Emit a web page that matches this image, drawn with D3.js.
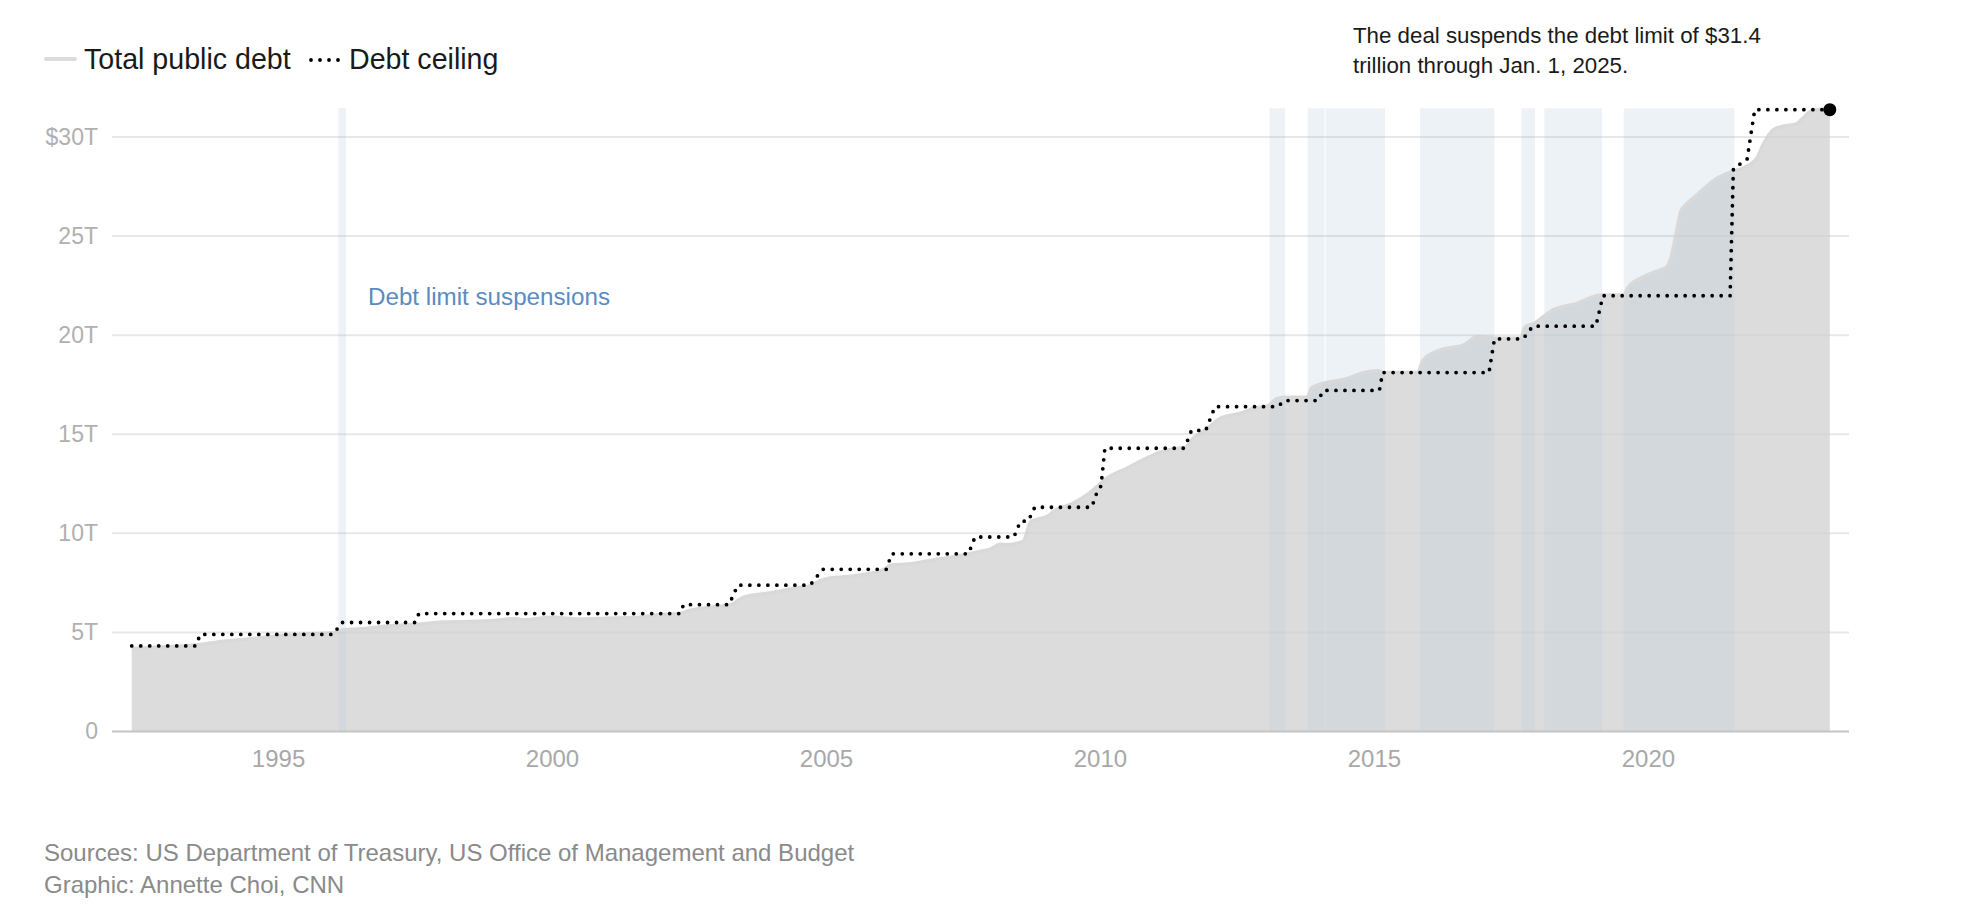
<!DOCTYPE html>
<html>
<head>
<meta charset="utf-8">
<script src="https://cdn.jsdelivr.net/npm/d3@7"></script>
<style>
  html, body { margin: 0; padding: 0; background: #fff; }
  svg { display: block; font-family: "Liberation Sans", Arial, Helvetica, sans-serif; }
</style>
</head>
<body>
<svg id="chart" width="1964" height="918"></svg>
<script>
// ---- Data (decimal years, trillions of dollars) ----
const debtYears = [1992.33, 1993.0, 1993.5, 1994.0, 1994.5, 1995.0, 1995.5, 1996.0, 1996.2, 1996.5,
  1997.0, 1997.6, 1998.0, 1998.5, 1999.0, 1999.3, 1999.5, 2000.0, 2000.5, 2001.0,
  2001.5, 2002.0, 2002.34, 2002.5, 2003.0, 2003.25, 2003.49, 2004.0, 2004.5, 2004.71,
  2004.89, 2005.0, 2005.5, 2006.04, 2006.2, 2006.5, 2007.0, 2007.5, 2007.75, 2008.0,
  2008.18, 2008.3, 2008.6, 2008.74, 2008.85, 2009.07, 2009.15, 2009.5, 2009.8, 2010.13,
  2010.5, 2010.78, 2011.1, 2011.43, 2011.55, 2011.7, 2011.92, 2012.2, 2012.57, 2012.8,
  2013.07, 2013.23, 2013.36, 2013.78, 2013.86, 2014.07, 2014.24, 2014.5, 2014.73, 2015.06,
  2015.2, 2015.8, 2015.9, 2016.22, 2016.64, 2016.89, 2017.2, 2017.69, 2017.75, 2017.93,
  2018.22, 2018.72, 2019.14, 2019.55, 2019.65, 2019.93, 2020.18, 2020.33, 2020.42, 2020.51,
  2020.6, 2020.69, 2020.9, 2021.27, 2021.51, 2021.75, 2021.99, 2022.1, 2022.29, 2022.47,
  2022.71, 2022.83, 2022.95, 2023.05, 2023.32];
const debtValues = [4.19, 4.28, 4.36, 4.55, 4.68, 4.82, 4.92, 4.98, 5.13, 5.18,
  5.32, 5.42, 5.52, 5.55, 5.62, 5.70, 5.64, 5.76, 5.68, 5.72,
  5.75, 5.90, 5.96, 6.10, 6.30, 6.38, 6.77, 7.00, 7.25, 7.34,
  7.60, 7.70, 7.85, 8.15, 8.40, 8.45, 8.68, 8.90, 9.05, 9.20,
  9.45, 9.43, 9.60, 10.60, 10.70, 10.90, 11.10, 11.50, 12.02, 12.78,
  13.30, 13.70, 14.10, 14.30, 14.32, 14.80, 15.20, 15.80, 16.06, 16.30,
  16.45, 16.80, 16.87, 16.87, 17.32, 17.57, 17.66, 17.80, 18.04, 18.20,
  18.11, 18.13, 18.75, 19.26, 19.51, 19.93, 19.85, 19.85, 20.40, 20.60,
  21.20, 21.62, 22.03, 22.03, 22.45, 22.96, 23.25, 23.40, 23.89, 25.07,
  26.24, 26.58, 27.09, 27.93, 28.23, 28.45, 28.94, 29.60, 30.37, 30.54,
  30.66, 30.96, 31.26, 31.38, 31.40];

const ceilingYears = [1992.33, 1993.5, 1993.58, 1996.01, 1996.16, 1997.5, 1997.57, 2002.34, 2002.4, 2003.23,
  2003.39, 2004.71, 2004.94, 2006.1, 2006.2, 2007.6, 2007.72, 2008.43, 2008.55, 2008.69,
  2008.81, 2009.85, 2009.95, 2010.02, 2010.09, 2011.52, 2011.6, 2011.67, 2011.93, 2012.1,
  2013.25, 2013.36, 2013.98, 2014.08, 2015.1, 2015.16, 2017.1, 2017.2, 2017.72, 2017.9,
  2019.05, 2019.18, 2021.5, 2021.56, 2021.81, 2021.95, 2023.32];
const ceilingValues = [4.32, 4.32, 4.9, 4.9, 5.5, 5.5, 5.95, 5.95, 6.4, 6.4,
  7.384, 7.384, 8.184, 8.184, 8.965, 8.965, 9.815, 9.815, 10.615, 10.615,
  11.315, 11.315, 12.104, 12.394, 14.294, 14.294, 14.694, 15.194, 15.194, 16.394,
  16.394, 16.699, 16.699, 17.212, 17.212, 18.113, 18.113, 19.809, 19.809, 20.456,
  20.456, 21.988, 21.988, 28.401, 28.881, 31.381, 31.381];

const suspensionStarts = [1996.10, 2013.095, 2013.79, 2014.12, 2015.84, 2017.69, 2018.11, 2019.56];
const suspensionEnds   = [1996.24, 2013.38, 2014.10, 2015.20, 2017.20, 2017.94, 2019.16, 2021.58];

const yTicks = [0, 5, 10, 15, 20, 25, 30];
const yTickLabels = ["0", "5T", "10T", "15T", "20T", "25T", "$30T"];
const xTicks = [1995, 2000, 2005, 2010, 2015, 2020];

const legendLabels = ["Total public debt", "Debt ceiling"];
const annotationLines = ["The deal suspends the debt limit of $31.4", "trillion through Jan. 1, 2025."];
const sourceLines = ["Sources: US Department of Treasury, US Office of Management and Budget",
                     "Graphic: Annette Choi, CNN"];
const bandLabel = "Debt limit suspensions";

// ---- Build ----
const svg = d3.select("#chart");
const x = d3.scaleLinear().domain([1991.97, 2023.67]).range([112, 1849]);
const y = d3.scaleLinear().domain([0, 30]).range([731.5, 137]);

const debt = debtYears.map((t, i) => ({ t, v: debtValues[i] }));
const ceiling = ceilingYears.map((t, i) => ({ t, v: ceilingValues[i] }));

// gridlines
svg.append("g").selectAll("line").data(yTicks.filter(d => d > 0)).join("line")
  .attr("x1", x.range()[0]).attr("x2", x.range()[1])
  .attr("y1", d => y(d)).attr("y2", d => y(d))
  .attr("stroke", "#ededed").attr("stroke-width", 2);

// area
const area = d3.area().x(d => x(d.t)).y0(y(0)).y1(d => y(d.v)).curve(d3.curveMonotoneX);
svg.append("path").datum(debt).attr("d", area).attr("fill", "#dcdcdc");

// suspension bands
const bandTop = y(31.45);
svg.append("g").selectAll("rect").data(suspensionStarts.map((s, i) => [s, suspensionEnds[i]])).join("rect")
  .attr("x", d => x(d[0])).attr("width", d => x(d[1]) - x(d[0]))
  .attr("y", bandTop).attr("height", y(0) - bandTop)
  .attr("fill", "rgb(185,205,225)").attr("fill-opacity", 0.25);

// debt top line
const line = d3.line().x(d => x(d.t)).y(d => y(d.v)).curve(d3.curveMonotoneX);
svg.append("path").datum(debt).attr("d", line)
  .attr("fill", "none").attr("stroke", "#d9d9d9").attr("stroke-width", 3.5);

// gridlines re-drawn faintly over area
svg.append("g").selectAll("line").data(yTicks.filter(d => d > 0)).join("line")
  .attr("x1", x.range()[0]).attr("x2", x.range()[1])
  .attr("y1", d => y(d)).attr("y2", d => y(d))
  .attr("stroke", "#000").attr("stroke-opacity", 0.025).attr("stroke-width", 2);

// axis line
svg.append("line").attr("x1", x.range()[0]).attr("x2", x.range()[1])
  .attr("y1", y(0)).attr("y2", y(0)).attr("stroke", "#c4c4c4").attr("stroke-width", 2);

// ceiling dotted line
const cline = d3.line().x(d => x(d.t)).y(d => y(d.v));
svg.append("path").datum(ceiling).attr("d", cline)
  .attr("fill", "none").attr("stroke", "#000").attr("stroke-width", 3.8)
  .attr("stroke-linecap", "round").attr("stroke-dasharray", "0 9");

const last = ceiling[ceiling.length - 1];
svg.append("circle").attr("cx", x(last.t)).attr("cy", y(last.v)).attr("r", 6.5).attr("fill", "#000");

// y axis labels
const yAxis = d3.axisLeft(y).tickValues(yTicks).tickFormat((d, i) => yTickLabels[i]).tickSize(0).tickPadding(0);
const gy = svg.append("g").attr("transform", "translate(98,0)").call(yAxis);
gy.select(".domain").remove();
gy.selectAll("text").attr("fill", "#b0b0b0").attr("font-size", 23)
  .attr("font-family", "'Liberation Sans', Arial, sans-serif");

// x axis labels
const xAxis = d3.axisBottom(x).tickValues(xTicks).tickFormat(d3.format("d")).tickSize(0).tickPadding(0);
const gx = svg.append("g").attr("transform", `translate(0,${y(0) + 18})`).call(xAxis);
gx.select(".domain").remove();
gx.selectAll("text").attr("fill", "#a8a8a8").attr("font-size", 24)
  .attr("font-family", "'Liberation Sans', Arial, sans-serif");

// band label
svg.append("text").attr("x", 368).attr("y", 305).attr("fill", "#5b8bc0")
  .attr("font-size", 24.2).text(bandLabel);

// legend
svg.append("line").attr("x1", 46).attr("x2", 75).attr("y1", 59).attr("y2", 59)
  .attr("stroke", "#dcdcdc").attr("stroke-width", 4).attr("stroke-linecap", "round");
svg.append("text").attr("x", 84).attr("y", 68.5).attr("fill", "#1a1a1a").attr("font-size", 28.6).text(legendLabels[0]);
svg.append("line").attr("x1", 311).attr("x2", 339).attr("y1", 60).attr("y2", 60)
  .attr("stroke", "#000").attr("stroke-width", 3.8).attr("stroke-linecap", "round").attr("stroke-dasharray", "0 9");
svg.append("text").attr("x", 349).attr("y", 68.5).attr("fill", "#1a1a1a").attr("font-size", 28.6).text(legendLabels[1]);

// annotation
svg.append("g").selectAll("text").data(annotationLines).join("text")
  .attr("x", 1353).attr("y", (d, i) => 43 + i * 30).attr("fill", "#1a1a1a").attr("font-size", 22.3).text(d => d);

// sources
svg.append("g").selectAll("text").data(sourceLines).join("text")
  .attr("x", 44).attr("y", (d, i) => 861 + i * 32).attr("fill", "#8a8a8a").attr("font-size", 24).text(d => d);
</script>
</body>
</html>
